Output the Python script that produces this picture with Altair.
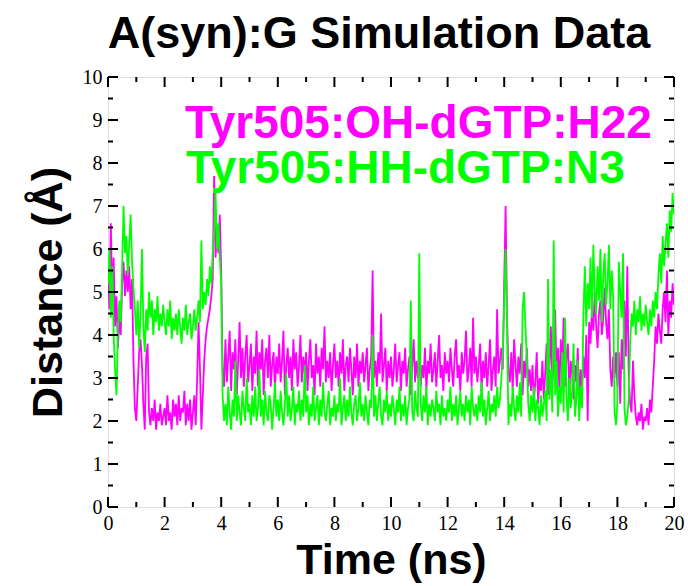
import altair as alt
import pandas as pd

# ---- data (time step 0.05 ns, 0..20 ns) ----
time_step_ns = 0.05

oh_h22 = [  # Tyr505:OH-dGTP:H22 (magenta)
    5.5,4.6,6.6,4.9,5.8,4.2,4.9,3.7,4.4,4.0,5.2,5.7,4.9,5.5,5.0,5.6,4.6,5.3,3.4,2.3,
    2.0,2.8,3.6,3.9,3.3,2.4,1.8,3.5,3.8,2.2,1.9,2.3,2.0,2.5,1.8,2.2,2.0,2.4,1.9,2.1,
    2.3,1.9,2.6,2.0,2.2,1.8,2.5,2.1,2.4,1.9,2.6,2.0,2.3,2.2,2.7,1.9,2.4,2.0,2.5,1.8,
    2.2,2.6,1.9,3.0,4.3,3.2,1.8,2.6,3.4,3.9,4.2,4.4,4.6,4.9,5.3,7.7,5.8,6.4,5.9,6.8,
    5.5,3.2,2.8,3.9,2.9,3.5,4.1,2.7,3.6,3.2,3.9,2.6,3.4,4.3,3.0,3.7,2.8,3.5,4.0,2.9,
    3.3,3.8,2.7,3.5,3.1,4.1,2.8,3.6,3.2,3.9,2.6,3.4,3.7,3.0,4.0,2.8,3.3,3.6,2.7,3.5,
    3.1,3.8,2.9,3.4,4.1,2.6,3.3,3.7,3.0,3.5,2.7,3.9,3.2,3.6,2.8,3.3,4.0,2.9,3.5,3.1,
    3.6,2.7,3.4,3.9,3.0,3.3,2.6,3.8,3.1,3.5,2.8,3.7,3.2,4.2,2.9,3.4,3.0,3.6,2.7,3.3,
    3.8,3.0,3.4,2.8,3.6,3.1,3.9,2.7,3.3,3.5,2.9,3.7,3.2,2.6,3.5,3.0,3.8,2.8,3.4,3.1,
    3.6,2.9,3.3,3.7,2.7,3.2,3.5,5.5,3.0,3.4,2.8,3.6,3.1,4.5,2.9,3.3,3.7,2.7,3.4,3.0,
    3.5,2.8,3.2,3.8,2.9,3.3,3.6,2.7,3.4,3.1,3.7,2.8,3.2,3.5,2.6,3.3,3.9,2.9,3.4,3.0,
    3.6,2.8,3.3,3.0,3.7,2.7,3.4,3.1,3.8,2.9,3.2,3.6,2.8,3.4,4.0,3.0,3.3,2.7,3.6,3.1,
    3.4,2.9,3.7,3.2,2.8,3.5,3.9,3.0,3.3,2.7,3.6,3.1,3.4,4.1,2.9,3.2,3.7,2.8,4.4,3.1,
    3.5,2.9,3.3,3.8,2.7,3.4,3.0,3.6,2.8,3.3,3.9,2.7,3.2,3.5,2.8,4.6,3.1,3.4,3.7,3.2,
    5.2,7.0,4.4,3.2,2.9,3.6,2.7,3.9,3.3,2.8,3.5,3.1,3.8,2.6,3.4,3.0,3.7,2.8,3.2,2.7,
    3.3,2.5,2.9,3.6,2.4,3.0,2.7,3.4,2.5,3.1,3.8,2.6,3.3,4.2,2.8,3.5,4.6,3.0,3.7,2.7,
    3.9,3.2,4.4,2.8,3.5,3.8,2.6,3.4,3.1,2.5,3.3,2.9,3.7,2.4,3.2,2.8,3.5,3.0,4.0,2.0,
    4.3,3.8,4.6,4.1,5.0,4.2,3.7,4.5,4.8,4.0,4.4,5.1,4.3,3.9,4.6,3.2,2.8,3.5,3.0,3.6,
    2.8,3.6,2.4,3.9,3.2,4.8,3.5,5.6,3.1,2.4,2.2,3.4,2.6,2.1,1.9,2.2,2.0,2.4,1.8,2.1,
    2.0,2.3,1.9,2.5,2.2,2.8,3.4,4.2,3.8,4.5,4.1,3.8,4.6,5.0,4.3,5.5,4.0,4.8,4.4,5.2,
    4.7,
]

hh_n3 = [  # Tyr505:HH-dGTP:N3 (green)
    5.2,6.0,4.4,5.6,4.0,3.2,2.6,4.1,4.8,4.3,5.6,7.0,5.9,6.3,5.4,6.1,6.8,5.7,5.1,4.6,
    4.0,4.8,3.7,4.5,6.0,4.2,3.6,4.6,4.1,5.0,4.4,4.8,4.0,4.6,4.3,4.9,4.1,4.5,4.2,4.7,
    4.3,4.0,4.6,4.2,4.8,3.9,4.4,4.1,4.5,4.0,4.6,4.2,3.8,4.4,4.1,4.7,4.0,4.3,4.5,3.9,
    4.2,4.6,4.1,4.4,4.8,4.3,6.2,4.6,5.0,4.7,5.3,4.9,5.6,5.2,5.9,6.4,7.3,6.0,6.6,5.8,
    5.2,2.6,2.0,2.4,1.9,2.8,2.2,1.8,2.5,2.1,3.4,2.0,2.6,2.2,1.9,2.7,2.3,2.0,3.0,2.2,
    2.4,1.9,2.6,2.1,2.8,2.0,2.3,3.2,2.1,2.5,1.9,2.7,2.2,2.0,2.6,2.4,1.8,2.3,2.9,2.1,
    2.5,2.0,2.7,2.2,1.9,2.4,3.1,2.1,2.6,2.0,2.3,2.8,1.9,2.4,2.2,2.7,2.0,2.5,2.1,3.3,
    2.2,2.6,1.9,2.4,2.1,2.8,2.0,2.3,2.6,1.9,2.5,2.1,2.9,2.2,2.0,2.4,2.7,1.9,2.3,2.1,
    2.6,2.0,2.4,2.2,3.0,1.9,2.3,2.6,2.0,2.5,2.1,2.8,2.2,1.9,2.4,2.6,2.0,2.3,2.9,2.1,
    2.4,2.0,2.6,2.2,1.9,2.5,2.3,4.0,2.1,2.6,2.0,2.4,2.8,2.1,1.9,2.5,2.2,2.7,2.0,2.4,
    2.1,2.6,2.3,1.9,2.5,2.2,2.8,2.0,2.4,2.1,2.6,1.9,2.3,2.5,4.8,2.2,2.0,2.7,2.3,2.1,
    5.9,2.4,2.0,2.6,2.2,2.8,1.9,2.4,2.1,2.5,2.3,2.0,2.7,2.2,2.4,1.9,2.6,2.1,2.3,2.0,
    2.5,2.2,2.8,2.0,2.4,2.1,2.6,1.9,2.3,2.7,2.1,2.4,2.0,2.6,2.2,2.5,1.9,2.8,2.3,2.1,
    2.4,2.0,2.6,2.2,2.9,2.1,2.5,1.9,2.3,2.7,2.0,2.4,2.2,2.6,2.1,2.8,2.3,2.5,3.0,3.6,
    4.8,6.0,4.2,1.9,2.4,2.1,2.8,2.3,2.0,2.6,2.2,2.9,2.1,4.6,5.0,4.2,3.5,2.4,2.0,2.6,
    2.2,2.8,2.0,2.5,2.3,1.9,2.6,2.1,2.4,2.7,2.0,5.3,2.5,3.2,2.2,6.2,2.6,3.4,2.1,2.8,
    2.4,3.6,2.2,4.4,2.6,2.0,3.0,2.3,2.7,3.8,2.1,2.5,3.4,2.0,2.8,2.3,4.5,5.6,4.2,5.2,
    4.6,5.8,4.4,6.1,5.0,4.5,5.6,4.8,6.0,4.3,5.4,5.9,4.7,5.2,6.1,4.6,5.5,4.9,2.2,1.9,
    2.4,5.7,5.0,4.4,5.9,2.3,1.9,2.1,2.5,3.8,4.5,4.2,4.8,4.0,4.6,4.3,4.9,4.1,4.5,4.2,
    4.7,4.3,4.0,4.6,4.2,4.8,4.4,5.0,4.6,5.4,5.9,5.2,6.3,5.6,6.1,6.6,5.8,6.9,6.4,7.3,
    6.8,
]

series_names = ["Tyr505:OH-dGTP:H22", "Tyr505:HH-dGTP:N3"]
series_colors = ["#ff00ff", "#00ff00"]

x_major = [0, 2, 4, 6, 8, 10, 12, 14, 16, 18, 20]
x_minor = [1, 3, 5, 7, 9, 11, 13, 15, 17, 19]
y_major = [0, 1, 2, 3, 4, 5, 6, 7, 8, 9, 10]
y_minor = [0.5, 1.5, 2.5, 3.5, 4.5, 5.5, 6.5, 7.5, 8.5, 9.5]

title_text = "A(syn):G Simulation Data"
x_title = "Time (ns)"
y_title = "Distance (Å)"

# ---- layout ----
W, H = 566, 430
SANS = "Liberation Sans"
SERIF = "Liberation Serif"

times = [round(i * time_step_ns, 2) for i in range(len(oh_h22))]
df_m = pd.DataFrame({"t": times, "d": oh_h22})
df_g = pd.DataFrame({"t": times, "d": hh_n3})

xs = alt.Scale(domain=[0, 20], nice=False, zero=False)
ys = alt.Scale(domain=[0, 10], nice=False, zero=False)

x_axis = alt.Axis(values=x_major, format="d", ticks=False, domain=False, grid=False,
                  labelFont=SERIF, labelFontSize=20, labelColor="black", labelPadding=6,
                  title=x_title, titleFont=SANS, titleFontSize=43, titleFontWeight="bold",
                  titleColor="black", titlePadding=6, labelFlush=False)
y_axis = alt.Axis(values=y_major, format="d", ticks=False, domain=False, grid=False,
                  labelFont=SERIF, labelFontSize=20, labelColor="black", labelPadding=6,
                  title=y_title, titleFont=SANS, titleFontSize=43, titleFontWeight="bold",
                  titleColor="black", titlePadding=12, labelFlush=False)

LW = 1.8
line_m = alt.Chart(df_m).mark_line(color=series_colors[0], strokeWidth=LW, clip=True).encode(
    x=alt.X("t:Q", scale=xs, axis=x_axis),
    y=alt.Y("d:Q", scale=ys, axis=y_axis),
)
line_g = alt.Chart(df_g).mark_line(color=series_colors[1], strokeWidth=LW, clip=True).encode(
    x=alt.X("t:Q", scale=xs),
    y=alt.Y("d:Q", scale=ys),
)

def xticks(vals, length):
    d = pd.DataFrame({"v": vals})
    bottom = alt.Chart(d).mark_rule(color="black", strokeWidth=2).encode(
        x=alt.X("v:Q", scale=xs), y=alt.value(H), y2=alt.value(H - length))
    top = alt.Chart(d).mark_rule(color="black", strokeWidth=2).encode(
        x=alt.X("v:Q", scale=xs), y=alt.value(0), y2=alt.value(length))
    return [bottom, top]

def yticks(vals, length):
    d = pd.DataFrame({"v": vals})
    left = alt.Chart(d).mark_rule(color="black", strokeWidth=2).encode(
        y=alt.Y("v:Q", scale=ys), x=alt.value(0), x2=alt.value(length))
    right = alt.Chart(d).mark_rule(color="black", strokeWidth=2).encode(
        y=alt.Y("v:Q", scale=ys), x=alt.value(W), x2=alt.value(W - length))
    return [left, right]

legend_df = pd.DataFrame({"name": series_names, "color": series_colors})
leg_m = alt.Chart(legend_df.iloc[[0]]).mark_text(
    align="left", baseline="alphabetic", font=SANS, fontSize=46, fontWeight="bold",
    color=series_colors[0]).encode(text="name:N", x=alt.value(77), y=alt.value(61))
leg_g = alt.Chart(legend_df.iloc[[1]]).mark_text(
    align="left", baseline="alphabetic", font=SANS, fontSize=46, fontWeight="bold",
    color=series_colors[1]).encode(text="name:N", x=alt.value(78), y=alt.value(106))

layers = [line_m, line_g] + xticks(x_major, 10) + xticks(x_minor, 5) \
    + yticks(y_major, 10) + yticks(y_minor, 5) + [leg_m, leg_g]

chart = alt.layer(*layers).properties(
    width=W, height=H,
    title=alt.TitleParams(title_text, font=SANS, fontSize=45, fontWeight="bold",
                          color="black", anchor="middle", offset=10, dx=-12),
    autosize=alt.AutoSizeParams(type="none"),
    padding={"left": 108, "top": 77, "right": 14, "bottom": 79},
).configure_view(stroke="black", strokeWidth=2).configure(background="white")

chart.save("out.html", embed_options={"renderer": "svg", "actions": False})
